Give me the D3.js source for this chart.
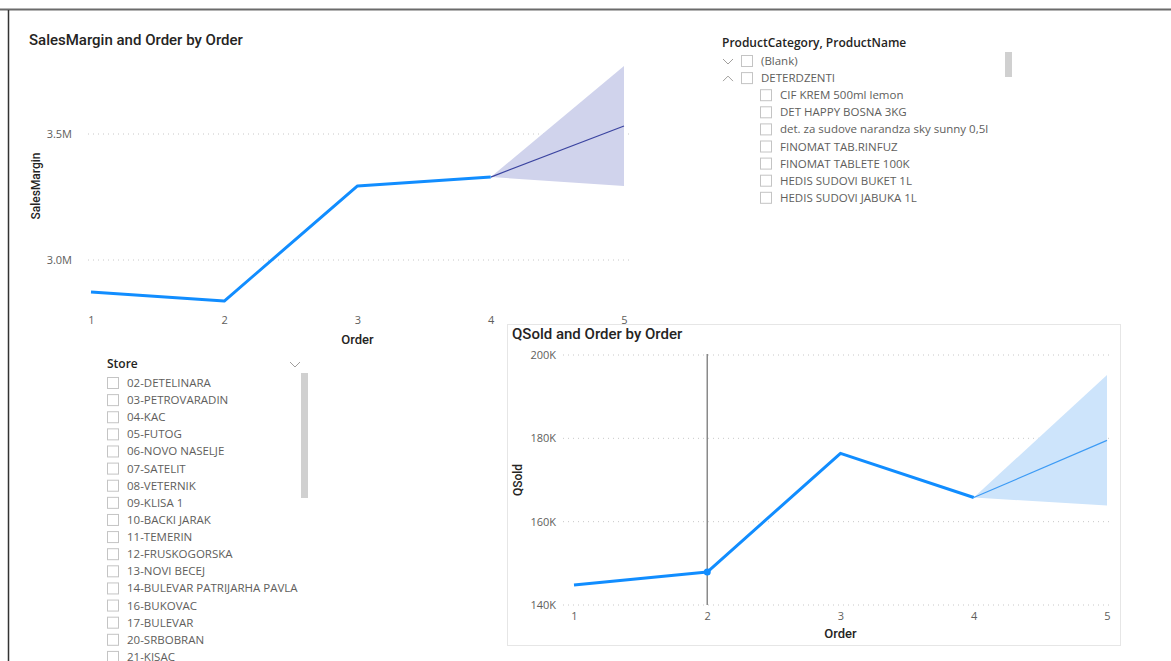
<!DOCTYPE html>
<meta charset="utf-8">
<style>
  body { margin: 0; background: #fff; }
  svg { display: block; }
</style>
<body>
<div id="chart"></div>
<script src="https://d3js.org/d3.v7.min.js"></script>
<script>

// ---- data ----
var orders = [1, 2, 3, 4, 5];
var salesMargin = [2873000, 2837000, 3294000, 3329000];
var salesForecast = [3329000, 3532000];
var salesUpper = [3329000, 3770000];
var salesLower = [3329000, 3294000];
var salesTicks = [3000000, 3500000];

var qSold = [144800, 147900, 176400, 165800];
var qForecast = [165800, 179500];
var qUpper = [165800, 195200];
var qLower = [165800, 163900];
var qTicks = [140000, 160000, 180000, 200000];
var qSelected = 2;

var productHeader = "ProductCategory, ProductName";
var productGroups = ["(Blank)", "DETERDZENTI"];
var productItems = ["CIF KREM 500ml lemon", "DET HAPPY BOSNA 3KG", "det. za sudove narandza sky sunny 0,5l",
  "FINOMAT TAB.RINFUZ", "FINOMAT TABLETE 100K", "HEDIS SUDOVI BUKET 1L", "HEDIS SUDOVI JABUKA 1L"];

var stores = ["02-DETELINARA", "03-PETROVARADIN", "04-KAC", "05-FUTOG", "06-NOVO NASELJE", "07-SATELIT",
  "08-VETERNIK", "09-KLISA 1", "10-BACKI JARAK", "11-TEMERIN", "12-FRUSKOGORSKA", "13-NOVI BECEJ",
  "14-BULEVAR PATRIJARHA PAVLA", "16-BUKOVAC", "17-BULEVAR", "20-SRBOBRAN", "21-KISAC"];

var w = 1171, h = 661;
var font = "'Segoe UI', 'Open Sans', sans-serif";
var titleFont = "Roboto, 'DejaVu Sans', sans-serif";
var blue = "#118DFF";

var svg = d3.select("#chart").append("svg")
    .attr("width", w)
    .attr("height", h);

// page frame
svg.append("line").attr("x1", 0).attr("x2", w).attr("y1", 9.5).attr("y2", 9.5)
    .attr("stroke", "#6b6b6b").attr("stroke-width", 2);
svg.append("line").attr("x1", 8.5).attr("x2", 8.5).attr("y1", 10).attr("y2", h)
    .attr("stroke", "#333").attr("stroke-width", 1.5);

function lineChart(opt) {
    var g = svg.append("g");
    if (opt.frame) {
        g.append("rect")
            .attr("x", opt.frame[0]).attr("y", opt.frame[1])
            .attr("width", opt.frame[2]).attr("height", opt.frame[3])
            .attr("fill", "#fff").attr("stroke", "#e6e6e6").attr("stroke-width", 1);
    }
    g.append("text")
        .text(opt.title)
        .attr("x", opt.titleX).attr("y", opt.titleY)
        .attr("font-family", titleFont)
        .attr("font-size", 15)
        .attr("font-weight", 500)
        .attr("fill", "#252423");

    var x = d3.scaleLinear().domain([1, 5]).range(opt.xRange);
    var y = d3.scaleLinear().domain(opt.yDomain).range(opt.yRange);

    // gridlines
    g.selectAll(".grid").data(opt.ticks).enter().append("line")
        .attr("x1", opt.gridX[0]).attr("x2", opt.gridX[1])
        .attr("y1", function(d) { return y(d); })
        .attr("y2", function(d) { return y(d); })
        .attr("stroke", "#c8c8c8")
        .attr("stroke-dasharray", "1,4");

    var yAxis = d3.axisLeft(y).tickValues(opt.ticks).tickSize(0).tickPadding(0).tickFormat(opt.fmt);
    var ya = g.append("g").attr("transform", "translate(" + opt.yLabelX + ",0)").call(yAxis);
    ya.select(".domain").remove();
    ya.selectAll("text").attr("font-family", font).attr("font-size", 11).attr("fill", "#605e5c");

    var xAxis = d3.axisBottom(x).tickValues(orders).tickSize(0).tickPadding(0).tickFormat(d3.format("d"));
    var xa = g.append("g").attr("transform", "translate(0," + opt.xLabelY + ")").call(xAxis);
    xa.select(".domain").remove();
    xa.selectAll("text").attr("font-family", font).attr("font-size", 11).attr("fill", "#605e5c").attr("dy", 0);

    g.append("text").text("Order")
        .attr("x", x(3)).attr("y", opt.xTitleY)
        .attr("text-anchor", "middle")
        .attr("font-family", titleFont).attr("font-size", 13).attr("font-weight", 500).attr("fill", "#252423");
    g.append("text").text(opt.yTitle)
        .attr("transform", "translate(" + opt.yTitleX + "," + opt.yTitleY + ") rotate(-90)")
        .attr("text-anchor", "middle")
        .attr("font-family", titleFont).attr("font-size", 12).attr("font-weight", 500).attr("fill", "#252423");

    // forecast band
    var band = d3.area()
        .x(function(d, i) { return x(4 + i); })
        .y0(function(d, i) { return y(opt.lower[i]); })
        .y1(function(d) { return y(d); });
    g.append("path").datum(opt.upper)
        .attr("d", band)
        .attr("fill", opt.bandColor);

    var fline = d3.line().x(function(d, i) { return x(4 + i); }).y(function(d) { return y(d); });
    g.append("path").datum(opt.forecast)
        .attr("d", fline)
        .attr("fill", "none")
        .attr("stroke", opt.forecastColor)
        .attr("stroke-width", 1.2);

    if (opt.selected) {
        g.append("line")
            .attr("x1", x(opt.selected)).attr("x2", x(opt.selected))
            .attr("y1", opt.selY[0]).attr("y2", opt.selY[1])
            .attr("stroke", "#8a8a8a").attr("stroke-width", 1.5);
    }

    var line = d3.line().x(function(d, i) { return x(orders[i]); }).y(function(d) { return y(d); });
    g.append("path").datum(opt.values)
        .attr("d", line)
        .attr("fill", "none")
        .attr("stroke", blue)
        .attr("stroke-width", 3)
        .attr("stroke-linejoin", "round");

    if (opt.selected) {
        g.append("circle")
            .attr("cx", x(opt.selected))
            .attr("cy", y(opt.values[opt.selected - 1]))
            .attr("r", 3.5)
            .attr("fill", blue);
    }
}

lineChart({
    title: "SalesMargin and Order by Order", titleX: 29, titleY: 45,
    xRange: [91, 624], yDomain: [3000000, 3500000], yRange: [260, 134],
    gridX: [88, 632], ticks: salesTicks, yLabelX: 72, xLabelY: 324,
    fmt: function(d) { return d3.format(".1f")(d / 1e6) + "M"; },
    xTitleY: 344, yTitle: "SalesMargin", yTitleX: 40, yTitleY: 186,
    values: salesMargin, forecast: salesForecast, upper: salesUpper, lower: salesLower,
    bandColor: "#d0d3ec", forecastColor: "#3b44a0"
});

lineChart({
    frame: [507.5, 324.5, 613, 321],
    title: "QSold and Order by Order", titleX: 512, titleY: 339,
    xRange: [574, 1107], yDomain: [140000, 200000], yRange: [605, 355],
    gridX: [563, 1112], ticks: qTicks, yLabelX: 556, xLabelY: 620,
    fmt: function(d) { return d / 1000 + "K"; },
    xTitleY: 638, yTitle: "QSold", yTitleX: 522, yTitleY: 480,
    values: qSold, forecast: qForecast, upper: qUpper, lower: qLower,
    bandColor: "#cde4fb", forecastColor: "#3d9bf5",
    selected: qSelected, selY: [354, 605]
});

// ---- slicers ----
function checkbox(g, x, y) {
    g.append("rect").attr("x", x + 0.5).attr("y", y + 0.5).attr("width", 11).attr("height", 11)
        .attr("fill", "#fff").attr("stroke", "#c4c4c4").attr("stroke-width", 1);
}

function chevron(g, x, y, up) {
    var d = up ? "M" + (x - 5) + "," + (y + 3) + "L" + x + "," + (y - 2) + "L" + (x + 5) + "," + (y + 3)
               : "M" + (x - 5) + "," + (y - 2) + "L" + x + "," + (y + 3) + "L" + (x + 5) + "," + (y - 2);
    g.append("path").attr("d", d).attr("fill", "none").attr("stroke", "#a19f9d").attr("stroke-width", 1);
}

// product slicer
var ps = svg.append("g");
ps.append("text").text(productHeader).attr("x", 722).attr("y", 47)
    .attr("font-family", font).attr("font-size", 12).attr("font-weight", 600).attr("fill", "#252423");
ps.append("rect").attr("x", 1005).attr("y", 52).attr("width", 7).attr("height", 25).attr("fill", "#d0d0d0");

var rowY = d3.scaleLinear().domain([0, 1]).range([61, 78.1]);
productGroups.forEach(function(name, i) {
    var cy = rowY(i);
    chevron(ps, 728, cy, i == 1);
    checkbox(ps, 741, cy - 6);
    ps.append("text").text(name).attr("x", 761).attr("y", cy + 4)
        .attr("font-family", font).attr("font-size", 11.5).attr("fill", "#605e5c");
});
productItems.forEach(function(name, i) {
    var cy = rowY(i + 2);
    checkbox(ps, 760, cy - 6);
    ps.append("text").text(name).attr("x", 780).attr("y", cy + 4)
        .attr("font-family", font).attr("font-size", 11.5).attr("fill", "#605e5c");
});

// store slicer
var ss = svg.append("g");
ss.append("text").text("Store").attr("x", 107).attr("y", 368)
    .attr("font-family", font).attr("font-size", 12).attr("font-weight", 600).attr("fill", "#252423");
chevron(ss, 295, 364, false);
ss.append("rect").attr("x", 301).attr("y", 373).attr("width", 7).attr("height", 125).attr("fill", "#d0d0d0");

var storeY = d3.scaleLinear().domain([0, 1]).range([383, 400.12]);
stores.forEach(function(name, i) {
    var cy = storeY(i);
    checkbox(ss, 107, cy - 6);
    ss.append("text").text(name).attr("x", 127).attr("y", cy + 4)
        .attr("font-family", font).attr("font-size", 11.5).attr("fill", "#605e5c");
});

</script>
</body>
